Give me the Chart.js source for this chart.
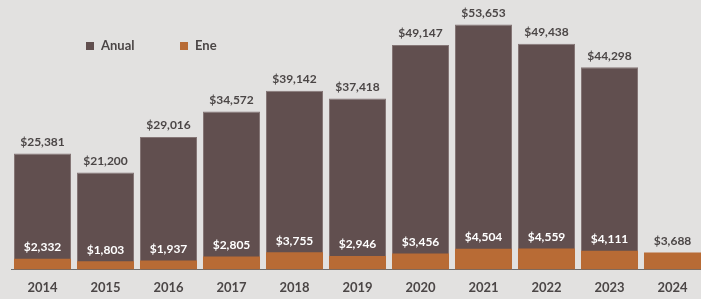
<!DOCTYPE html>
<html>
<head>
<meta charset="utf-8">
<script src="https://cdn.jsdelivr.net/npm/chart.js@4.4.1/dist/chart.umd.min.js"></script>
<style>
html,body{margin:0;padding:0;background:#e2e1e0;overflow:hidden;}
#wrap{width:701px;height:299px;position:relative;overflow:hidden;}
</style>
</head>
<body>
<div id="wrap"><canvas id="c" width="710" height="311"></canvas></div>
<script>
const years = ['2014','2015','2016','2017','2018','2019','2020','2021','2022','2023','2024'];
const anual = [25381,21200,29016,34572,39142,37418,49147,53653,49438,44298,null];
const ene = [2332,1803,1937,2805,3755,2946,3456,4504,4559,4111,3688];
const seriesNames = ['Anual','Ene'];
const colAnual = '#614f4f';
const colEne = '#b86b35';
const textCol = '#4b4646';

const fmt = v => '$' + v.toLocaleString('en-US');

const labelPlugin = {
  id: 'valLabels',
  afterDatasetsDraw(chart) {
    const ctx = chart.ctx;
    const mA = chart.getDatasetMeta(0);
    const mE = chart.getDatasetMeta(1);
    ctx.save();
    ctx.font = 'bold 12px Lato';
    ctx.textAlign = 'center';
    ctx.textBaseline = 'middle';
    years.forEach((y, i) => {
      if (anual[i] != null) {
        const el = mA.data[i];
        ctx.fillStyle = textCol;
        ctx.fillText(fmt(anual[i]), el.x, el.y - 11.5);
      }
      if (ene[i] != null) {
        const el = mE.data[i];
        ctx.fillStyle = anual[i] != null ? '#ffffff' : textCol;
        ctx.fillText(fmt(ene[i]), el.x, el.y - 11.5);
      }
    });
    // legend
    ctx.font = 'bold 13px Lato';
    ctx.textAlign = 'left';
    const items = [[seriesNames[0], colAnual, 86], [seriesNames[1], colEne, 180]];
    items.forEach(([t, c, x]) => {
      ctx.fillStyle = c;
      ctx.fillRect(x, 42, 8, 8);
      ctx.fillStyle = textCol;
      ctx.fillText(t, x + 15, 46);
    });
    ctx.restore();
  }
};

new Chart(document.getElementById('c'), {
  type: 'bar',
  data: {
    labels: years,
    datasets: [
      { label: seriesNames[0], data: anual, backgroundColor: colAnual, borderColor: '#857676', borderWidth: 1, order: 1, grouped: false },
      { label: seriesNames[1], data: ene, backgroundColor: colEne, borderWidth: 0, order: 0, grouped: false }
    ]
  },
  options: {
    responsive: false,
    animation: false,
    devicePixelRatio: 1,
    layout: { padding: { left: 11, right: 6, top: 0, bottom: 4 } },
    datasets: { bar: { categoryPercentage: 1, barPercentage: 0.905 } },
    plugins: { legend: { display: false }, tooltip: { enabled: false } },
    scales: {
      x: {
        grid: { display: false, drawTicks: false },
        border: { display: true, color: '#6e6e6e', width: 1 },
        ticks: { color: textCol, font: { family: 'Lato', size: 13, weight: 'bold' }, padding: 11 }
      },
      y: { display: false, min: 0, max: 59000 }
    }
  },
  plugins: [labelPlugin]
});
</script>
</body>
</html>
